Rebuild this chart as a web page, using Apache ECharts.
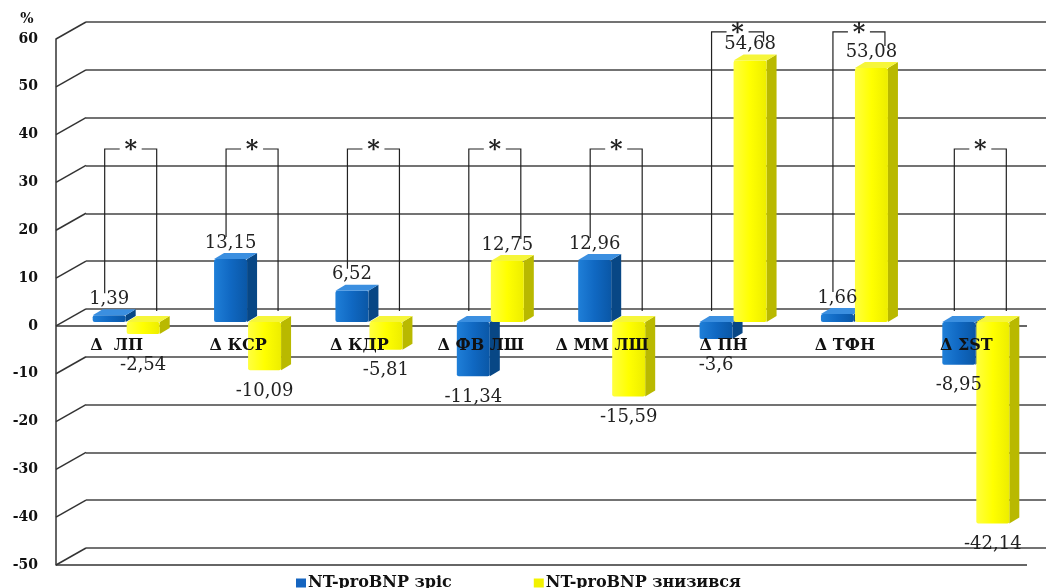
<!DOCTYPE html>
<html>
<head>
<meta charset="utf-8">
<script src="https://cdn.jsdelivr.net/npm/echarts@6/dist/echarts.min.js"></script>
<style>
  html, body { margin: 0; padding: 0; background: #fff; }
  #chart { width: 1046px; height: 588px; }
</style>
</head>
<body>
<div id="chart"></div>
<script>
// categories and values (%)
const categories = ['Δ  ЛП', 'Δ КСР', 'Δ КДР', 'Δ ФВ ЛШ', 'Δ ММ ЛШ', 'Δ ПН', 'Δ ТФН', 'Δ ΣST'];
const rose = [1.39, 13.15, 6.52, -11.34, 12.96, -3.6, 1.66, -8.95];
const fell = [-2.54, -10.09, -5.81, 12.75, -15.59, 54.68, 53.08, -42.14];
// level of the "*" brackets
const bracketTop = [37, 37, 37, 37, 37, 61.5, 61.5, 37];
const yTicks = [-50, -40, -30, -20, -10, 0, 10, 20, 30, 40, 50, 60];

const serif = '"DejaVu Serif", "Liberation Serif", serif';
const DX = 14, DY = -4;   // bars sit a bit behind the front plane
const D = 10, E = 6;      // depth of a bar
const W = 33;

const looks = [
  {
    name: 'NT-proBNP зріс', off: -38,
    front: new echarts.graphic.LinearGradient(0, 0, 1, 0, [
      {offset: 0, color: '#1f7fd8'}, {offset: 0.5, color: '#1068c2'}, {offset: 1, color: '#0a57a6'}]),
    side: '#084785', top: '#3b8fe0', legend: '#1565c0'
  },
  {
    name: 'NT-proBNP знизився', off: -4,
    front: new echarts.graphic.LinearGradient(0, 0, 1, 0, [
      {offset: 0, color: '#ffff40'}, {offset: 0.5, color: '#ffff00'}, {offset: 1, color: '#eded00'}]),
    side: '#b9b900', top: '#f6f63a', legend: '#f2f200'
  }
];

function fmt(v) { return String(v).replace('.', ','); }

function barRender(k) {
  const lk = looks[k];
  return function (params, api) {
    const i = api.value(0), v = api.value(1);
    const base = api.coord([i, 0]);
    const tip = api.coord([i, v]);
    const x0 = base[0] + DX + lk.off;
    const yTop = Math.min(base[1], tip[1]) + DY;
    const yBot = Math.max(base[1], tip[1]) + DY;
    const kids = [
      {type: 'polygon', shape: {points: [[x0 + W, yTop], [x0 + W + D, yTop - E], [x0 + W + D, yBot - E], [x0 + W, yBot]]},
        style: {fill: lk.side}},
      {type: 'rect', shape: {x: x0, y: yTop, width: W, height: yBot - yTop, r: 2}, style: {fill: lk.front}},
      {type: 'polygon', shape: {points: [[x0, yTop], [x0 + D, yTop - E], [x0 + W + D, yTop - E], [x0 + W, yTop]]},
        style: {fill: lk.top}}
    ];
    return {type: 'group', children: kids};
  };
}

function labelRender(k) {
  const lk = looks[k];
  return function (params, api) {
    const i = api.value(0), v = api.value(1);
    const base = api.coord([i, 0]);
    const tip = api.coord([i, v]);
    const cx = base[0] + DX + lk.off + W / 2;
    const pos = v >= 0;
    // negative labels go below the bar, under the category row
    const y = pos ? tip[1] + DY - E - 1 : Math.max(tip[1] + DY + 12, base[1] + 30);
    return {
      type: 'text',
      style: {
        text: fmt(v), x: cx, y: y,
        align: 'center', verticalAlign: pos ? 'bottom' : 'top',
        font: '18px ' + serif, fill: '#222'
      }
    };
  };
}

// category names sit just under the zero line, over the bars
function catRender(params, api) {
  const i = api.value(0);
  const p = api.coord([i, 0]);
  return {
    type: 'text',
    style: {
      text: categories[i], x: p[0], y: p[1] + 20, align: 'center', verticalAlign: 'middle',
      font: 'bold 16px ' + serif, fill: '#111'
    }
  };
}

function bracketRender(params, api) {
  const i = api.value(0);
  const top = api.coord([i, api.value(1)])[1];
  const c = api.coord([i, 0])[0] + DX;
  const zeroY = api.coord([i, 0])[1];
  function endY(v) {
    if (v <= 0) return zeroY - 15;
    return Math.max(api.coord([i, v])[1] - 26, top + 10);
  }
  const xl = c - 26, xr = c + 26;
  const st = {stroke: '#222', lineWidth: 1.2, fill: null};
  return {
    type: 'group',
    children: [
      {type: 'polyline', shape: {points: [[xl, endY(api.value(2))], [xl, top], [c - 11, top]]}, style: st},
      {type: 'polyline', shape: {points: [[c + 11, top], [xr, top], [xr, endY(api.value(3))]]}, style: st},
      {type: 'text', style: {text: '*', x: c, y: top + 2, align: 'center', verticalAlign: 'middle',
        font: 'bold 24px ' + serif, fill: '#222'}}
    ]
  };
}

// side wall lines, plus the front floor edges at zero and at the minimum
function sideRender(params, api) {
  const t = api.value(1);
  const p = api.coord([0, t]);
  const cs = params.coordSys;
  const st = {stroke: '#333', lineWidth: 1.5};
  const kids = [{type: 'line', shape: {x1: cs.x, y1: p[1], x2: cs.x + 30, y2: p[1] - 17}, style: st}];
  if (t === yTicks[0] || t === 0) {
    kids.push({type: 'line', shape: {x1: cs.x, y1: p[1], x2: cs.x + cs.width, y2: p[1]}, style: st});
  }
  return {type: 'group', children: kids};
}

const chart = echarts.init(document.getElementById('chart'));
chart.setOption({
  animation: false,
  legend: {
    left: 291, top: 570, itemWidth: 10, itemHeight: 9, itemGap: 82, icon: 'rect',
    textStyle: {fontFamily: serif, fontWeight: 'bold', fontSize: 16, color: '#111', padding: [0, 0, 0, -3]},
    data: looks.map(l => l.name)
  },
  grid: [
    {left: 56, right: 19, top: 39, bottom: 23},
    {left: 86, right: -11, top: 22, bottom: 40}
  ],
  xAxis: [
    {type: 'category', gridIndex: 0, data: categories, show: false},
    {type: 'category', gridIndex: 1, data: categories, show: false}
  ],
  yAxis: [
    {
      type: 'value', gridIndex: 0, min: -50, max: 60, interval: 10,
      name: '%', nameGap: 13,
      nameTextStyle: {fontFamily: serif, fontWeight: 'bold', fontSize: 14, color: '#111', padding: [0, 58, 0, 0]},
      axisLine: {show: true, lineStyle: {color: '#333', width: 1.5}},
      axisTick: {show: false}, splitLine: {show: false},
      axisLabel: {margin: 18, fontFamily: serif, fontWeight: 'bold', fontSize: 14, color: '#111'}
    },
    {
      type: 'value', gridIndex: 1, min: -50, max: 60, interval: 10,
      axisLine: {show: false}, axisTick: {show: false}, axisLabel: {show: false},
      splitLine: {lineStyle: {color: '#444', width: 1.5}}
    }
  ],
  series: [
    {type: 'custom', name: 'side', xAxisIndex: 0, yAxisIndex: 0, silent: true, z: 1,
      renderItem: sideRender, data: yTicks.map(t => [0, t])},
    {type: 'custom', name: 'brackets', xAxisIndex: 0, yAxisIndex: 0, silent: true, z: 1,
      renderItem: bracketRender,
      data: categories.map((c, i) => [i, bracketTop[i], rose[i], fell[i]])},
    ...[rose, fell].map((vals, k) => ({
      type: 'custom', name: looks[k].name, xAxisIndex: 0, yAxisIndex: 0, z: 2 + k,
      itemStyle: {color: looks[k].legend},
      renderItem: barRender(k), data: vals.map((v, i) => [i, v])
    })),
    ...[rose, fell].map((vals, k) => ({
      type: 'custom', name: 'lab' + k, xAxisIndex: 0, yAxisIndex: 0, z: 6, silent: true,
      renderItem: labelRender(k), data: vals.map((v, i) => [i, v])
    })),
    {type: 'custom', name: 'cats', xAxisIndex: 0, yAxisIndex: 0, z: 7, silent: true,
      renderItem: catRender, data: categories.map((c, i) => [i, 0])}
  ]
});
</script>
</body>
</html>
